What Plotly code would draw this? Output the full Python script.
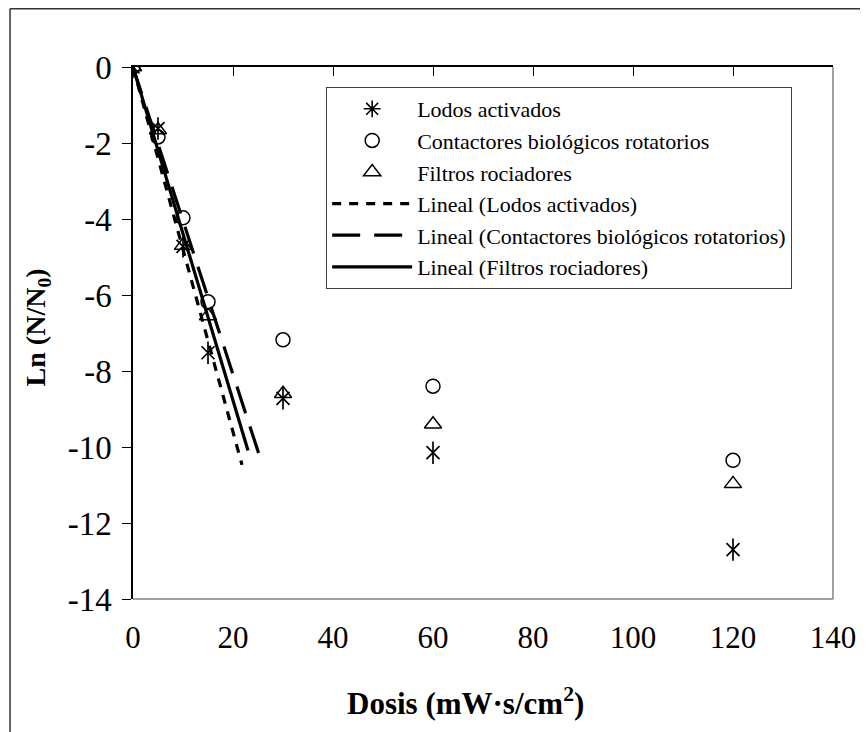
import numpy as np
import plotly.graph_objects as go

# ---- data ----
dosis = [0, 5, 10, 15, 30, 60, 120]
lodos = [0, -1.62, -4.72, -7.52, -8.72, -10.15, -12.7]
contactores = [0, -1.84, -3.97, -6.18, -7.18, -8.4, -10.35]
filtros = [0, -1.66, -4.7, -6.55, -8.6, -9.4, -10.97]

series_names = ["Lodos activados", "Contactores biológicos rotatorios", "Filtros rociadores"]
trend_names = ["Lineal (Lodos activados)", "Lineal (Contactores biológicos rotatorios)",
               "Lineal (Filtros rociadores)"]
fit_points = 4                      # trend lines fitted to the first doses
trend_x_end = [21.8, 25.5, 23.0]    # extent of each trend line

x_tick_vals = [0, 20, 40, 60, 80, 100, 120, 140]
x_tick_labels = ["0", "20", "40", "60", "80", "100", "120", "140"]
y_tick_vals = [0, -2, -4, -6, -8, -10, -12, -14]
y_tick_labels = ["0", "-2", "-4", "-6", "-8", "-10", "-12", "-14"]

FONT = "Liberation Serif"
OFF = 8                       # default page margin of the html body
W, H = 868 - OFF, 732 - OFF   # figure fits the window after the body margin
# plot area in window pixels: x 133..836, y 67..599
L, T = 133 - OFF, 67 - OFF
R, B = W - (836 - OFF), H - (599 - OFF)
pw, ph = W - L - R, H - T - B


def px(xs):   # window x pixel -> paper
    return (xs - OFF - L) / pw


def py(ys):   # window y pixel -> paper
    return (H - B - (ys - OFF)) / ph


fig = go.Figure()

# legend-only glyph for the asterisk series
fig.add_trace(go.Scatter(x=[None], y=[None], mode="markers", name=series_names[0],
                         marker=dict(symbol="asterisk-open", size=14, color="black",
                                     line=dict(color="black", width=1.6))))
# asterisk markers drawn as X + vertical bar
fig.add_trace(go.Scatter(x=dosis, y=lodos, mode="markers", showlegend=False,
                         name=series_names[0],
                         marker=dict(symbol="x-thin-open", size=13, color="black",
                                     line=dict(color="black", width=1.7))))
fig.add_trace(go.Scatter(x=dosis, y=lodos, mode="markers", showlegend=False, hoverinfo="skip",
                         marker=dict(symbol="line-ns-open", size=16, color="black",
                                     line=dict(color="black", width=1.7))))
fig.add_trace(go.Scatter(x=dosis, y=contactores, mode="markers", name=series_names[1],
                         marker=dict(symbol="circle-open", size=14, color="black",
                                     line=dict(color="black", width=1.5))))
fig.add_trace(go.Scatter(x=dosis, y=filtros, mode="markers", name=series_names[2],
                         marker=dict(symbol="triangle-up-open", size=15, color="black",
                                     line=dict(color="black", width=1.5))))

# linear trend lines (least squares through origin, first doses)
dashes = ["9px,8px", "28px,14px", "solid"]
for vals, name, xend, dash in zip([lodos, contactores, filtros], trend_names, trend_x_end, dashes):
    xs = np.array(dosis[:fit_points], dtype=float)
    ys = np.array(vals[:fit_points], dtype=float)
    slope = float(np.sum(xs * ys) / np.sum(xs * xs))
    tx = [0.0, xend]
    ty = [slope * v for v in tx]
    fig.add_trace(go.Scatter(x=tx, y=ty, mode="lines", name=name,
                             line=dict(color="black", width=3.2, dash=dash)))

# secondary x axis at top (axis crosses at y=0) carrying the tick marks
fig.add_trace(go.Scatter(x=[dosis[0]], y=[lodos[0]], xaxis="x2", mode="markers",
                         marker=dict(opacity=0), showlegend=False, hoverinfo="skip"))

fig.update_layout(
    width=W, height=H,
    margin=dict(l=L, r=R, t=T, b=B),
    paper_bgcolor="white", plot_bgcolor="white",
    font=dict(family=FONT, color="black"),
    xaxis=dict(range=[0, 140], tickvals=x_tick_vals, ticktext=x_tick_labels,
               showline=False, ticks="", showgrid=False, zeroline=False,
               tickfont=dict(size=31, family=FONT), ticklabelstandoff=17),
    xaxis2=dict(range=[0, 140], overlaying="x", side="top", matches="x",
                tickvals=x_tick_vals, showticklabels=False,
                showline=True, linecolor="black", linewidth=1.5,
                ticks="inside", ticklen=9, tickwidth=1.2, tickcolor="black",
                showgrid=False, zeroline=False),
    yaxis=dict(range=[-14, 0], tickvals=y_tick_vals, ticktext=y_tick_labels,
               showline=True, linecolor="black", linewidth=1.5,
               ticks="outside", ticklen=9, tickwidth=1.2, tickcolor="black",
               showgrid=False, zeroline=False,
               tickfont=dict(size=33, family=FONT), ticklabelstandoff=4),
    legend=dict(x=px(327), y=py(87),
                xanchor="left", yanchor="top",
                bgcolor="white", bordercolor="#404040", borderwidth=1,
                font=dict(size=22, family=FONT), itemwidth=80,
                tracegroupgap=0, traceorder="normal"),
    showlegend=True,
)

# axis titles
fig.add_annotation(text="<b>Dosis (mW·s/cm<sup>2</sup>)</b>", xref="paper", yref="paper",
                   x=px(467), y=py(701),
                   xanchor="center", yanchor="middle", showarrow=False,
                   font=dict(size=31, family=FONT, color="black"))
fig.add_annotation(text="<b>Ln (N/N<sub>0</sub>)</b>", xref="paper", yref="paper",
                   x=px(37), y=py(327),
                   xanchor="center", yanchor="middle", textangle=-90, showarrow=False,
                   font=dict(size=28, family=FONT, color="black"))

# plot frame right/bottom (grey)
fig.add_shape(type="line", xref="paper", yref="paper", x0=1, x1=1, y0=0, y1=1,
              line=dict(color="#808080", width=1.5))
fig.add_shape(type="line", xref="paper", yref="paper", x0=0, x1=1, y0=0, y1=0,
              line=dict(color="#808080", width=1.5))

# outer chart border (left and top visible)
fig.add_shape(type="line", xref="paper", yref="paper",
              x0=px(9.5), x1=px(9.5), y0=py(740), y1=py(8.8),
              line=dict(color="#333333", width=1.5))
fig.add_shape(type="line", xref="paper", yref="paper",
              x0=px(9.5), x1=px(870), y0=py(8.8), y1=py(8.8),
              line=dict(color="#333333", width=1.5))

fig.write_html("out.html")
